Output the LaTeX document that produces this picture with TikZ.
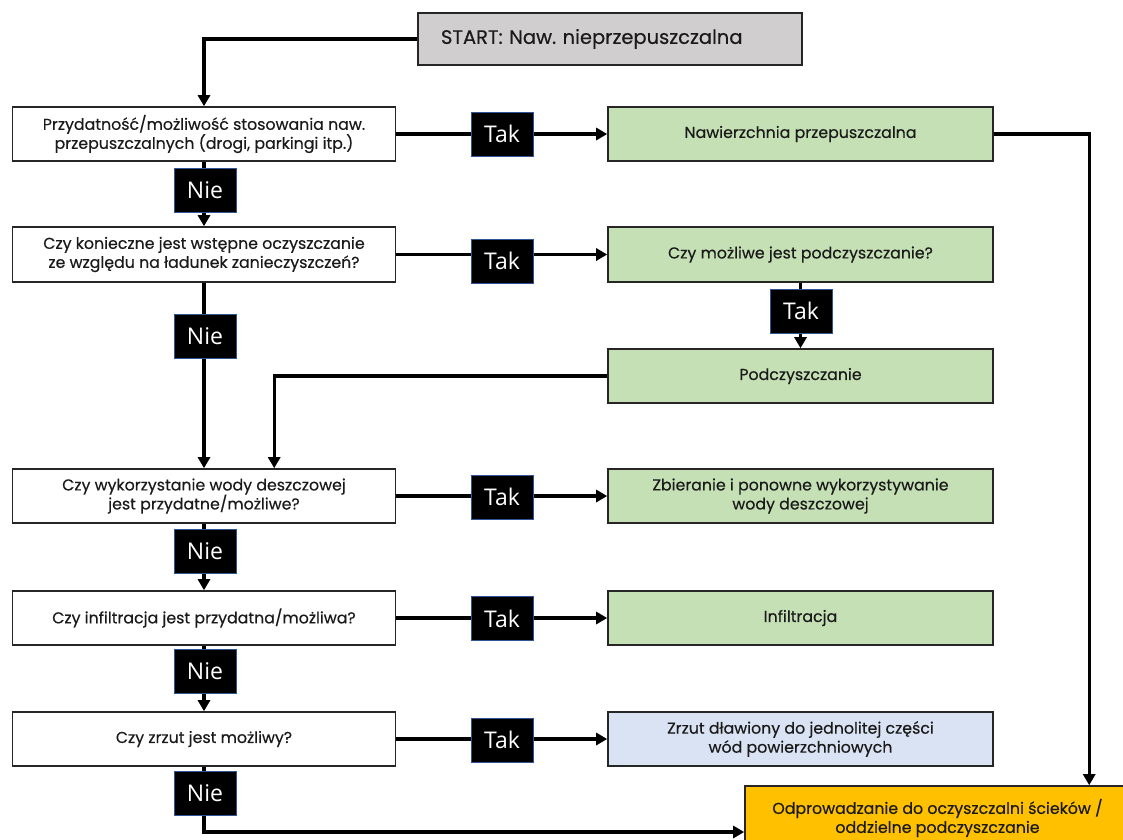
\documentclass[tikz,border=0pt]{standalone}
\usepackage{fontspec}
\setmainfont{Poppins}[UprightFeatures={FakeBold=0.35}]
\newfontfamily\tagfont{Open Sans}
\usetikzlibrary{arrows.meta,calc}
\frenchspacing

\definecolor{boxline}{HTML}{262626}
\definecolor{textcol}{HTML}{1A1A1A}
\definecolor{startfill}{HTML}{D0CECE}
\definecolor{greenfill}{HTML}{C5E0B4}
\definecolor{bluefill}{HTML}{DAE3F3}
\definecolor{orangefill}{HTML}{FFC000}
\definecolor{tagline}{HTML}{2F5597}

\begin{document}
\begin{tikzpicture}[x=1pt,y=-1pt,
  box/.style={draw=boxline, line width=1.6pt, minimum height=54pt, inner sep=0pt,
              align=center, text=textcol, font=\fontsize{15.8}{19}\selectfont},
  question/.style={box, fill=white, minimum width=383pt},
  outcome/.style={box, fill=greenfill, minimum width=385pt},
  tag/.style={fill=black, draw=tagline, line width=0.8pt, text=white,
              font=\tagfont\fontsize{23}{26}\selectfont,
              minimum width=62pt, minimum height=44pt, inner sep=0pt},
  link/.style={line width=3.2pt},
  flow/.style={link, -{Triangle[length=11pt,width=12pt]}}
]
\useasboundingbox (0,0) rectangle (1123,839);
\clip (0,0) rectangle (1123,839);

% start box
\node[box, fill=startfill, minimum height=52pt, inner xsep=23pt, text width=338pt,
      align=left, font=\fontsize{19.5}{22}\selectfont] (start) at (610,39)
      {START: Naw. nieprzepuszczalna};

% decision column
\node[question] (q1) at (204,134) {Przydatność/możliwość stosowania naw.\\przepuszczalnych (drogi, parkingi itp.)};
\node[question, minimum height=55pt] (q2) at (204,254.5) {Czy konieczne jest wstępne oczyszczanie\\ze względu na ładunek zanieczyszczeń?};
\node[question] (q3) at (204,496) {Czy wykorzystanie wody deszczowej\\jest przydatne/możliwe?};
\node[question] (q4) at (204,618) {Czy infiltracja jest przydatna/możliwa?};
\node[question] (q5) at (204,739) {Czy zrzut jest możliwy?};

% outcome column
\node[outcome] (g1) at (800.5,134) {Nawierzchnia przepuszczalna};
\node[outcome, minimum height=55pt] (g2) at (800.5,254.5) {Czy możliwe jest podczyszczanie?};
\node[outcome] (g3) at (800.5,376) {Podczyszczanie};
\node[outcome] (g4) at (800.5,496) {Zbieranie i ponowne wykorzystywanie\\wody deszczowej};
\node[outcome] (g5) at (800.5,618) {Infiltracja};
\node[box, fill=bluefill, minimum width=385pt] (g6) at (800.5,739) {Zrzut dławiony do jednolitej części\\wód powierzchniowych};
\node[box, fill=orangefill, minimum width=385pt, minimum height=64pt] (sink) at (937.5,818)
      {Odprowadzanie do oczyszczalni ścieków /\\oddzielne podczyszczanie};

% connectors
\draw[flow] (start.west) -| (q1.north);
\draw[flow] (q1.south) -- (q2.north);
\draw[flow] (q2.south) -- (q3.north);
\draw[flow] (q3.south) -- (q4.north);
\draw[flow] (q4.south) -- (q5.north);
\draw[flow] (q5.south) |- ([yshift=-14pt]sink.west);

\draw[flow] (q1.east) -- (g1.west);
\draw[flow] (q2.east) -- (g2.west);
\draw[flow] (q3.east) -- (g4.west);
\draw[flow] (q4.east) -- (g5.west);
\draw[flow] (q5.east) -- (g6.west);
\draw[flow] (g2.south) -- (g3.north);
\draw[flow] (g3.west) -| ([xshift=262.5pt]q3.north west);
\draw[flow] (g1.east) -| ([xshift=345pt]sink.north west);

% answer tags
\node[tag] (y1) at (502,134) {Tak};
\node[tag] (y2) at (502,261) {Tak};
\node[tag] (y3) at (801,311) {Tak};
\node[tag] (y4) at (502,497) {Tak};
\node[tag] (y5) at (502,618.5) {Tak};
\node[tag] (y6) at (502,740) {Tak};

\node[tag] (n1) at (205,190) {Nie};
\node[tag] (n2) at (205,336) {Nie};
\node[tag] (n3) at (205,551.5) {Nie};
\node[tag] (n4) at (205,671.5) {Nie};
\node[tag] (n5) at (205,793) {Nie};
\end{tikzpicture}
\end{document}
